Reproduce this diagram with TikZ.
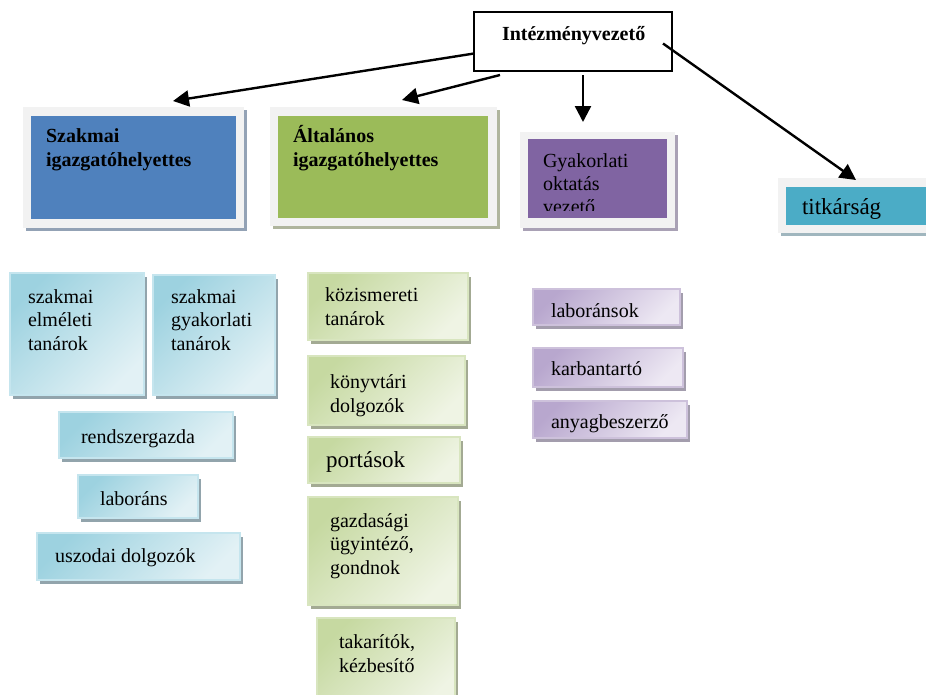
\documentclass[tikz,border=0pt]{standalone}
\usepackage{fontspec}
\setmainfont{Liberation Serif}
\usetikzlibrary{arrows.meta,shadows}
\definecolor{frameGrey}{HTML}{F2F2F2}
\definecolor{blueMain}{HTML}{4F81BD}
\definecolor{greenMain}{HTML}{9BBB59}
\definecolor{purpleMain}{HTML}{8064A2}
\definecolor{tealMain}{HTML}{4BACC6}
\definecolor{blueFrameShadow}{HTML}{93A2B5}
\definecolor{greenFrameShadow}{HTML}{AFB59D}
\definecolor{purpleFrameShadow}{HTML}{A9A1B5}
\definecolor{tealFrameShadow}{HTML}{A0B6BE}
\definecolor{blueDark}{HTML}{9DD2E0}
\definecolor{blueLight}{HTML}{E2F1F5}
\definecolor{blueBorder}{HTML}{C5E5EE}
\definecolor{blueShadow}{HTML}{92A4AC}
\definecolor{greenDark}{HTML}{C6D9A1}
\definecolor{greenLight}{HTML}{EFF4E4}
\definecolor{greenBorder}{HTML}{D8E5BF}
\definecolor{greenShadow}{HTML}{A3AA93}
\definecolor{purpleDark}{HTML}{B8A7CE}
\definecolor{purpleLight}{HTML}{EDE8F3}
\definecolor{purpleBorder}{HTML}{CDC1DB}
\definecolor{purpleShadow}{HTML}{A39DAD}
\begin{document}
\begin{tikzpicture}[x=1pt, y=-1pt,
  every node/.style={inner sep=0pt, outer sep=0pt},
  frame/.style={rectangle, anchor=north west, fill=frameGrey},
  head/.style={rectangle, anchor=north west},
  txt/.style={anchor=base west, align=left, font=\fontsize{20}{23.5}\selectfont},
  boldtxt/.style={txt, font=\fontsize{20}{23.5}\selectfont\bfseries},
  bigtxt/.style={txt, font=\fontsize{23}{26}\selectfont},
  unit/.style={rectangle, anchor=north west, line width=1.5pt},
  blueunit/.style={unit, draw=blueBorder, top color=blueDark, bottom color=blueLight, shading angle=45,
    general shadow={fill=blueShadow, shadow xshift=3pt, shadow yshift=-4pt}},
  greenunit/.style={unit, draw=greenBorder, top color=greenDark, bottom color=greenLight, shading angle=45,
    general shadow={fill=greenShadow, shadow xshift=3pt, shadow yshift=-4pt}},
  purpleunit/.style={unit, draw=purpleBorder, top color=purpleDark, bottom color=purpleLight, shading angle=45,
    general shadow={fill=purpleShadow, shadow xshift=3pt, shadow yshift=-4pt}},
  arr/.style={line width=2.4pt, -{Triangle[length=16pt,width=16pt]}}]
\useasboundingbox (0,0) rectangle (926,694);
% vezeto
\node[rectangle, anchor=north west, draw=black, line width=1.3pt, fill=white,
  minimum width=198pt, minimum height=59pt] (vez) at (474,12) {};
\node[boldtxt] (vezT) at (502,40) {Intézményvezető};
% helyettesek (text anchor = last baseline)
\node[frame, minimum width=221pt, minimum height=121pt,
  general shadow={fill=blueFrameShadow, shadow xshift=3pt, shadow yshift=-3pt}] (szakF) at (23,107) {};
\node[head, fill=blueMain, minimum width=205pt, minimum height=103pt] (szakI) at (31,116) {};
\node[boldtxt] (szakT) at (46,166) {Szakmai\\igazgatóhelyettes};
\node[frame, minimum width=227pt, minimum height=119pt,
  general shadow={fill=greenFrameShadow, shadow xshift=3pt, shadow yshift=-3pt}] (altF) at (270,107) {};
\node[head, fill=greenMain, minimum width=210pt, minimum height=102pt] (altI) at (278,116) {};
\node[boldtxt] (altT) at (293,166) {Általános\\igazgatóhelyettes};
\node[frame, minimum width=155pt, minimum height=96pt,
  general shadow={fill=purpleFrameShadow, shadow xshift=3pt, shadow yshift=-3pt}] (gyakF) at (520,132) {};
\node[head, fill=purpleMain, minimum width=139pt, minimum height=79pt] (gyakI) at (528,139) {};
\begin{scope}
\clip (gyakI.north west) rectangle ([yshift=8pt]gyakI.south east);
\node[txt, font=\fontsize{20}{23}\selectfont] (gyakT) at (543,213) {Gyakorlati\\oktatás\\vezető};
\end{scope}
\node[frame, minimum width=160pt, minimum height=55pt,
  general shadow={fill=tealFrameShadow, shadow xshift=3pt, shadow yshift=-3pt}] (titkF) at (778,178) {};
\node[head, fill=tealMain, minimum width=150pt, minimum height=38pt] (titkI) at (786,187) {};
\node[bigtxt] (titkT) at (802,214) {titkárság};
% nyilak
\coordinate (tipSzak) at (173,101);
\coordinate (tipAlt) at (402,100);
\coordinate (tipGyak) at (583,122);
\coordinate (tipTitk) at (856,180);
\draw[arr] ([yshift=-12pt]vez.west) -- (tipSzak);
\draw[arr] ([xshift=26pt,yshift=-4pt]vez.south west) -- (tipAlt);
\draw[arr] ([xshift=10pt,yshift=-4pt]vez.south) -- (tipGyak);
\draw[arr] ([xshift=-9pt,yshift=-2pt]vez.east) -- (tipTitk);
% szakmai csoport
\node[blueunit, minimum width=134pt, minimum height=122pt] (elm) at (10,273) {};
\node[txt] (elmT) at (28,350) {szakmai\\elméleti\\tanárok};
\node[blueunit, minimum width=122pt, minimum height=120pt] (gyk) at (153,275) {};
\node[txt] (gykT) at (171,350) {szakmai\\gyakorlati\\tanárok};
\node[blueunit, minimum width=174pt, minimum height=46pt] (rend) at (59,412) {};
\node[txt] (rendT) at (81,443) {rendszergazda};
\node[blueunit, minimum width=120pt, minimum height=43pt] (labo) at (78,475) {};
\node[txt] (laboT) at (100,505) {laboráns};
\node[blueunit, minimum width=203pt, minimum height=47pt] (uszo) at (37,533) {};
\node[txt] (uszoT) at (55,562) {uszodai dolgozók};
% altalanos csoport
\node[greenunit, minimum width=160pt, minimum height=67pt] (kozi) at (308,273) {};
\node[txt] (koziT) at (325,325) {közismereti\\tanárok};
\node[greenunit, minimum width=157pt, minimum height=69pt] (konyv) at (308,356) {};
\node[txt] (konyvT) at (330,412) {könyvtári\\dolgozók};
\node[greenunit, minimum width=152pt, minimum height=46pt] (port) at (308,437) {};
\node[bigtxt] (portT) at (326,467) {portások};
\node[greenunit, minimum width=150pt, minimum height=108pt] (gazd) at (308,497) {};
\node[txt] (gazdT) at (330,574) {gazdasági\\ügyintéző,\\gondnok};
\node[greenunit, minimum width=138pt, minimum height=90pt] (taka) at (317,618) {};
\node[txt] (takaT) at (339,672) {takarítók,\\kézbesítő};
% gyakorlati csoport
\node[purpleunit, minimum width=147pt, minimum height=36pt] (labs) at (533,289) {};
\node[txt] (labsT) at (551,317) {laboránsok};
\node[purpleunit, minimum width=150pt, minimum height=39pt] (karb) at (533,348) {};
\node[txt] (karbT) at (551,375) {karbantartó};
\node[purpleunit, minimum width=154pt, minimum height=37pt] (anya) at (533,401) {};
\node[txt] (anyaT) at (551,428) {anyagbeszerző};
\end{tikzpicture}
\end{document}
